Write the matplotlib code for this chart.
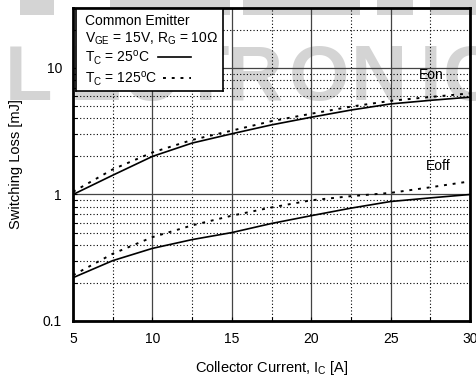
import numpy as np
import matplotlib
matplotlib.use("Agg")
from matplotlib import pyplot as plt
from matplotlib.patches import Rectangle

plt.rcParams['font.family'] = ['Liberation Sans', 'DejaVu Sans']

# collector current [A]
current = [5, 7.5, 10, 12.5, 15, 17.5, 20, 22.5, 25, 27.5, 30]
# switching loss [mJ]
eon_25 = [1.0, 1.42, 2.0, 2.55, 3.02, 3.55, 4.08, 4.65, 5.2, 5.55, 5.88]
eon_125 = [1.05, 1.58, 2.15, 2.7, 3.2, 3.8, 4.35, 4.95, 5.5, 5.9, 6.3]
eoff_25 = [0.22, 0.30, 0.375, 0.44, 0.50, 0.59, 0.68, 0.78, 0.88, 0.94, 1.0]
eoff_125 = [0.23, 0.34, 0.46, 0.57, 0.68, 0.79, 0.90, 0.97, 1.03, 1.14, 1.27]

xticks = [5, 10, 15, 20, 25, 30]
yticks = [0.1, 1, 10]
ytick_labels = ['0.1', '1', '10']

# watermark letters and their centres (figure fraction)
wm_letters = list('LECTRONIC')
wm_x = [0.06, 0.20, 0.315, 0.43, 0.535, 0.67, 0.795, 0.905, 0.99]

fig = plt.figure(figsize=(4.76, 3.78), dpi=100)
ax = fig.add_axes([0.1534, 0.1508, 0.834, 0.829])
ax.set_zorder(1)
ax.patch.set_alpha(0)

# faint watermark behind the plot
for ch, xx in zip(wm_letters, wm_x):
    fig.text(xx, 0.79, ch, ha='center', va='center', fontsize=56,
             fontweight='bold', color='#d4d4d4', zorder=-5)
for x0, x1 in [(20, 54), (110, 230), (243, 360), (377, 413), (430, 476)]:
    fig.patches.append(Rectangle((x0 / 476, 1 - 15 / 378), (x1 - x0) / 476, 15 / 378,
                                 transform=fig.transFigure, color='#d4d4d4',
                                 lw=0, zorder=-5))

ax.plot(current, eon_25, color='black', lw=1.2)
ax.plot(current, eon_125, color='black', lw=1.4, ls=(0, (1.5, 3)))
ax.plot(current, eoff_25, color='black', lw=1.2)
ax.plot(current, eoff_125, color='black', lw=1.4, ls=(0, (1.5, 3)))

ax.set_yscale('log')
ax.set_xlim(5, 30)
ax.set_ylim(0.1, 30)
ax.set_xticks(xticks)
ax.set_xticks([7.5, 12.5, 17.5, 22.5, 27.5], minor=True)
ax.set_yticks(yticks)
ax.set_yticklabels(ytick_labels)
ax.tick_params(which='both', direction='in', labelsize=10, length=3, width=0.8)
ax.tick_params(axis='x', pad=8)
ax.tick_params(axis='y', pad=8)

ax.grid(which='major', color='#444444', lw=0.9, ls='-')
ax.grid(which='minor', color='black', lw=0.8, ls=(0, (1, 2)))
for s in ax.spines.values():
    s.set_linewidth(2)

ax.set_xlabel('Collector Current, I$_\\mathregular{C}$ [A]', fontsize=10.5, labelpad=9)
ax.set_ylabel('Switching Loss [mJ]', fontsize=10.5, labelpad=14)

ax.text(26.8, 8.2, 'Eon', fontsize=10)
ax.text(27.2, 1.55, 'Eoff', fontsize=10)

# legend block
lg = ax.inset_axes([0.008, 0.735, 0.37, 0.26])
lg.set_xlim(0, 1)
lg.set_ylim(0, 1)
lg.set_xticks([])
lg.set_yticks([])
lg.set_facecolor('white')
for s in lg.spines.values():
    s.set_linewidth(1.2)
lg.text(0.06, 0.85, 'Common Emitter', fontsize=10, va='center')
lg.text(0.06, 0.64, 'V$_\\mathregular{GE}$ = 15V, R$_\\mathregular{G}$ = 10\u03a9', fontsize=10, va='center')
lg.text(0.06, 0.40, 'T$_\\mathregular{C}$ = 25$^\\mathregular{o}$C', fontsize=10, va='center')
lg.text(0.06, 0.15, 'T$_\\mathregular{C}$ = 125$^\\mathregular{o}$C', fontsize=10, va='center')
lg.plot([0.56, 0.78], [0.41, 0.41], color='black', lw=1.2)
lg.plot([0.59, 0.78], [0.16, 0.16], color='black', lw=1.4, ls=(0, (1.5, 3)))

fig.savefig('out.png', dpi=100)
